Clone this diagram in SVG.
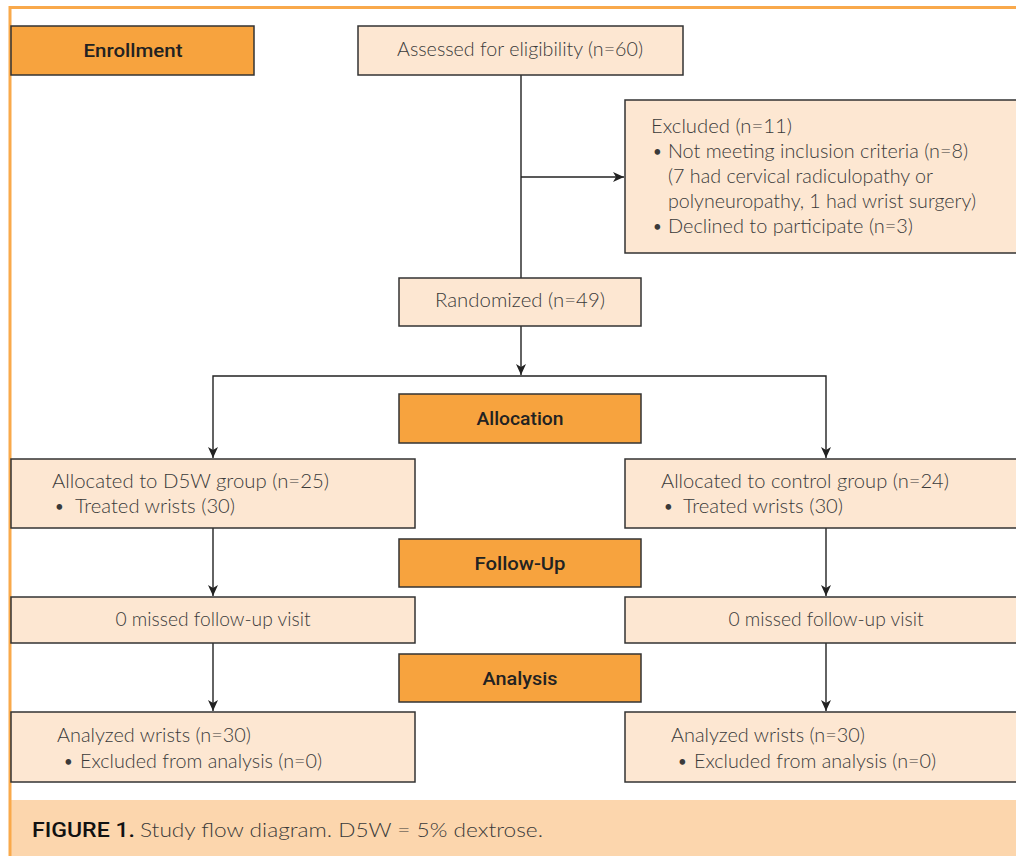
<svg xmlns="http://www.w3.org/2000/svg" width="1016" height="856" viewBox="0 0 1016 856">
<defs>
<style>
.hd{fill:#F7A33E;stroke:#333;stroke-width:1.5}
.bx{fill:#FDE7D2;stroke:#333;stroke-width:1.5}
.t{font-family:Lato,"Open Sans","Liberation Sans",sans-serif;font-weight:300;font-size:19px;fill:#3a3a3a}
.b{font-family:Lato,"Open Sans","Liberation Sans",sans-serif;font-size:15px;fill:#3a3a3a}
.h{font-family:Roboto,"Liberation Sans",sans-serif;font-weight:500;font-size:19px;fill:#222}
.c{stroke:#222;stroke-width:1.4;fill:none}
</style>
<marker id="ar" markerUnits="userSpaceOnUse" markerWidth="12" markerHeight="10" refX="11" refY="5" orient="auto">
<path d="M0,0 L11,5 L0,10 L3,5 z" fill="#222"/>
</marker>
</defs>
<rect x="0" y="0" width="1016" height="856" fill="#fff"/>
<rect x="11" y="800" width="1005" height="56" fill="#FCD6AD"/>
<path d="M10,856 V7.5 H1016" stroke="#F9A94B" stroke-width="3" fill="none"/>

<g id="connectors">
<path class="c" d="M521,75 V278"/>
<path class="c" d="M521,177 H624" marker-end="url(#ar)"/>
<path class="c" d="M521,326 V375" marker-end="url(#ar)"/>
<path class="c" d="M521,376 H213 V458" marker-end="url(#ar)"/>
<path class="c" d="M521,376 H826 V458" marker-end="url(#ar)"/>
<path class="c" d="M213,528 V596" marker-end="url(#ar)"/>
<path class="c" d="M826,528 V596" marker-end="url(#ar)"/>
<path class="c" d="M213,643 V711" marker-end="url(#ar)"/>
<path class="c" d="M826,643 V711" marker-end="url(#ar)"/>
</g>

<g id="enrollment">
<rect class="hd" x="11" y="26" width="243" height="49"/>
<text class="h" x="133" y="57" text-anchor="middle" textLength="99" lengthAdjust="spacingAndGlyphs">Enrollment</text>
</g>
<g id="assessed">
<rect class="bx" x="358" y="26" width="325" height="49"/>
<text class="t" x="397" y="56" textLength="246" lengthAdjust="spacingAndGlyphs">Assessed for eligibility (n=60)</text>
</g>
<g id="excluded">
<rect class="bx" x="625" y="100" width="393" height="153"/>
<text class="t" x="651" y="133" textLength="141" lengthAdjust="spacingAndGlyphs">Excluded (n=11)</text>
<text class="b" x="653" y="157">•</text>
<text class="t" x="668" y="158" textLength="300" lengthAdjust="spacingAndGlyphs">Not meeting inclusion criteria (n=8)</text>
<text class="t" x="668" y="183" textLength="265" lengthAdjust="spacingAndGlyphs">(7 had cervical radiculopathy or</text>
<text class="t" x="668" y="208" textLength="308" lengthAdjust="spacingAndGlyphs">polyneuropathy, 1 had wrist surgery)</text>
<text class="b" x="653" y="232">•</text>
<text class="t" x="668" y="233" textLength="245" lengthAdjust="spacingAndGlyphs">Declined to participate (n=3)</text>
</g>
<g id="randomized">
<rect class="bx" x="399" y="278" width="242" height="48"/>
<text class="t" x="435" y="307" textLength="170" lengthAdjust="spacingAndGlyphs">Randomized (n=49)</text>
</g>
<g id="allocation">
<rect class="hd" x="399" y="394" width="242" height="49"/>
<text class="h" x="520" y="425" text-anchor="middle" textLength="87" lengthAdjust="spacingAndGlyphs">Allocation</text>
</g>
<g id="alloc-d5w">
<rect class="bx" x="11" y="459" width="404" height="69"/>
<text class="t" x="52" y="488" textLength="277" lengthAdjust="spacingAndGlyphs">Allocated to D5W group (n=25)</text>
<text class="b" x="55" y="512">•</text>
<text class="t" x="75" y="513" textLength="160" lengthAdjust="spacingAndGlyphs">Treated wrists (30)</text>
</g>
<g id="alloc-control">
<rect class="bx" x="625" y="459" width="393" height="69"/>
<text class="t" x="661" y="488" textLength="288" lengthAdjust="spacingAndGlyphs">Allocated to control group (n=24)</text>
<text class="b" x="664" y="512">•</text>
<text class="t" x="683" y="513" textLength="160" lengthAdjust="spacingAndGlyphs">Treated wrists (30)</text>
</g>
<g id="followup">
<rect class="hd" x="399" y="539" width="242" height="48"/>
<text class="h" x="520" y="570" text-anchor="middle" textLength="91" lengthAdjust="spacingAndGlyphs">Follow-Up</text>
</g>
<g id="missed-d5w">
<rect class="bx" x="11" y="597" width="404" height="46"/>
<text class="t" x="213" y="626" text-anchor="middle" textLength="195" lengthAdjust="spacingAndGlyphs">0 missed follow-up visit</text>
</g>
<g id="missed-control">
<rect class="bx" x="625" y="597" width="393" height="46"/>
<text class="t" x="826" y="626" text-anchor="middle" textLength="195" lengthAdjust="spacingAndGlyphs">0 missed follow-up visit</text>
</g>
<g id="analysis">
<rect class="hd" x="399" y="654" width="242" height="48"/>
<text class="h" x="520" y="685" text-anchor="middle" textLength="75" lengthAdjust="spacingAndGlyphs">Analysis</text>
</g>
<g id="analyzed-d5w">
<rect class="bx" x="11" y="712" width="404" height="70"/>
<text class="t" x="57" y="742" textLength="194" lengthAdjust="spacingAndGlyphs">Analyzed wrists (n=30)</text>
<text class="b" x="64" y="767">•</text>
<text class="t" x="80" y="768" textLength="242" lengthAdjust="spacingAndGlyphs">Excluded from analysis (n=0)</text>
</g>
<g id="analyzed-control">
<rect class="bx" x="625" y="712" width="393" height="70"/>
<text class="t" x="671" y="742" textLength="194" lengthAdjust="spacingAndGlyphs">Analyzed wrists (n=30)</text>
<text class="b" x="678" y="767">•</text>
<text class="t" x="694" y="768" textLength="242" lengthAdjust="spacingAndGlyphs">Excluded from analysis (n=0)</text>
</g>
<g id="caption">
<text x="32" y="837" font-family="Roboto,'Liberation Sans',sans-serif" font-weight="500" font-size="20" fill="#111" textLength="103" lengthAdjust="spacingAndGlyphs">FIGURE 1.</text>
<text class="t" x="140" y="837" font-size="20" fill="#222" textLength="403" lengthAdjust="spacingAndGlyphs">Study flow diagram. D5W = 5% dextrose.</text>
</g>
</svg>
